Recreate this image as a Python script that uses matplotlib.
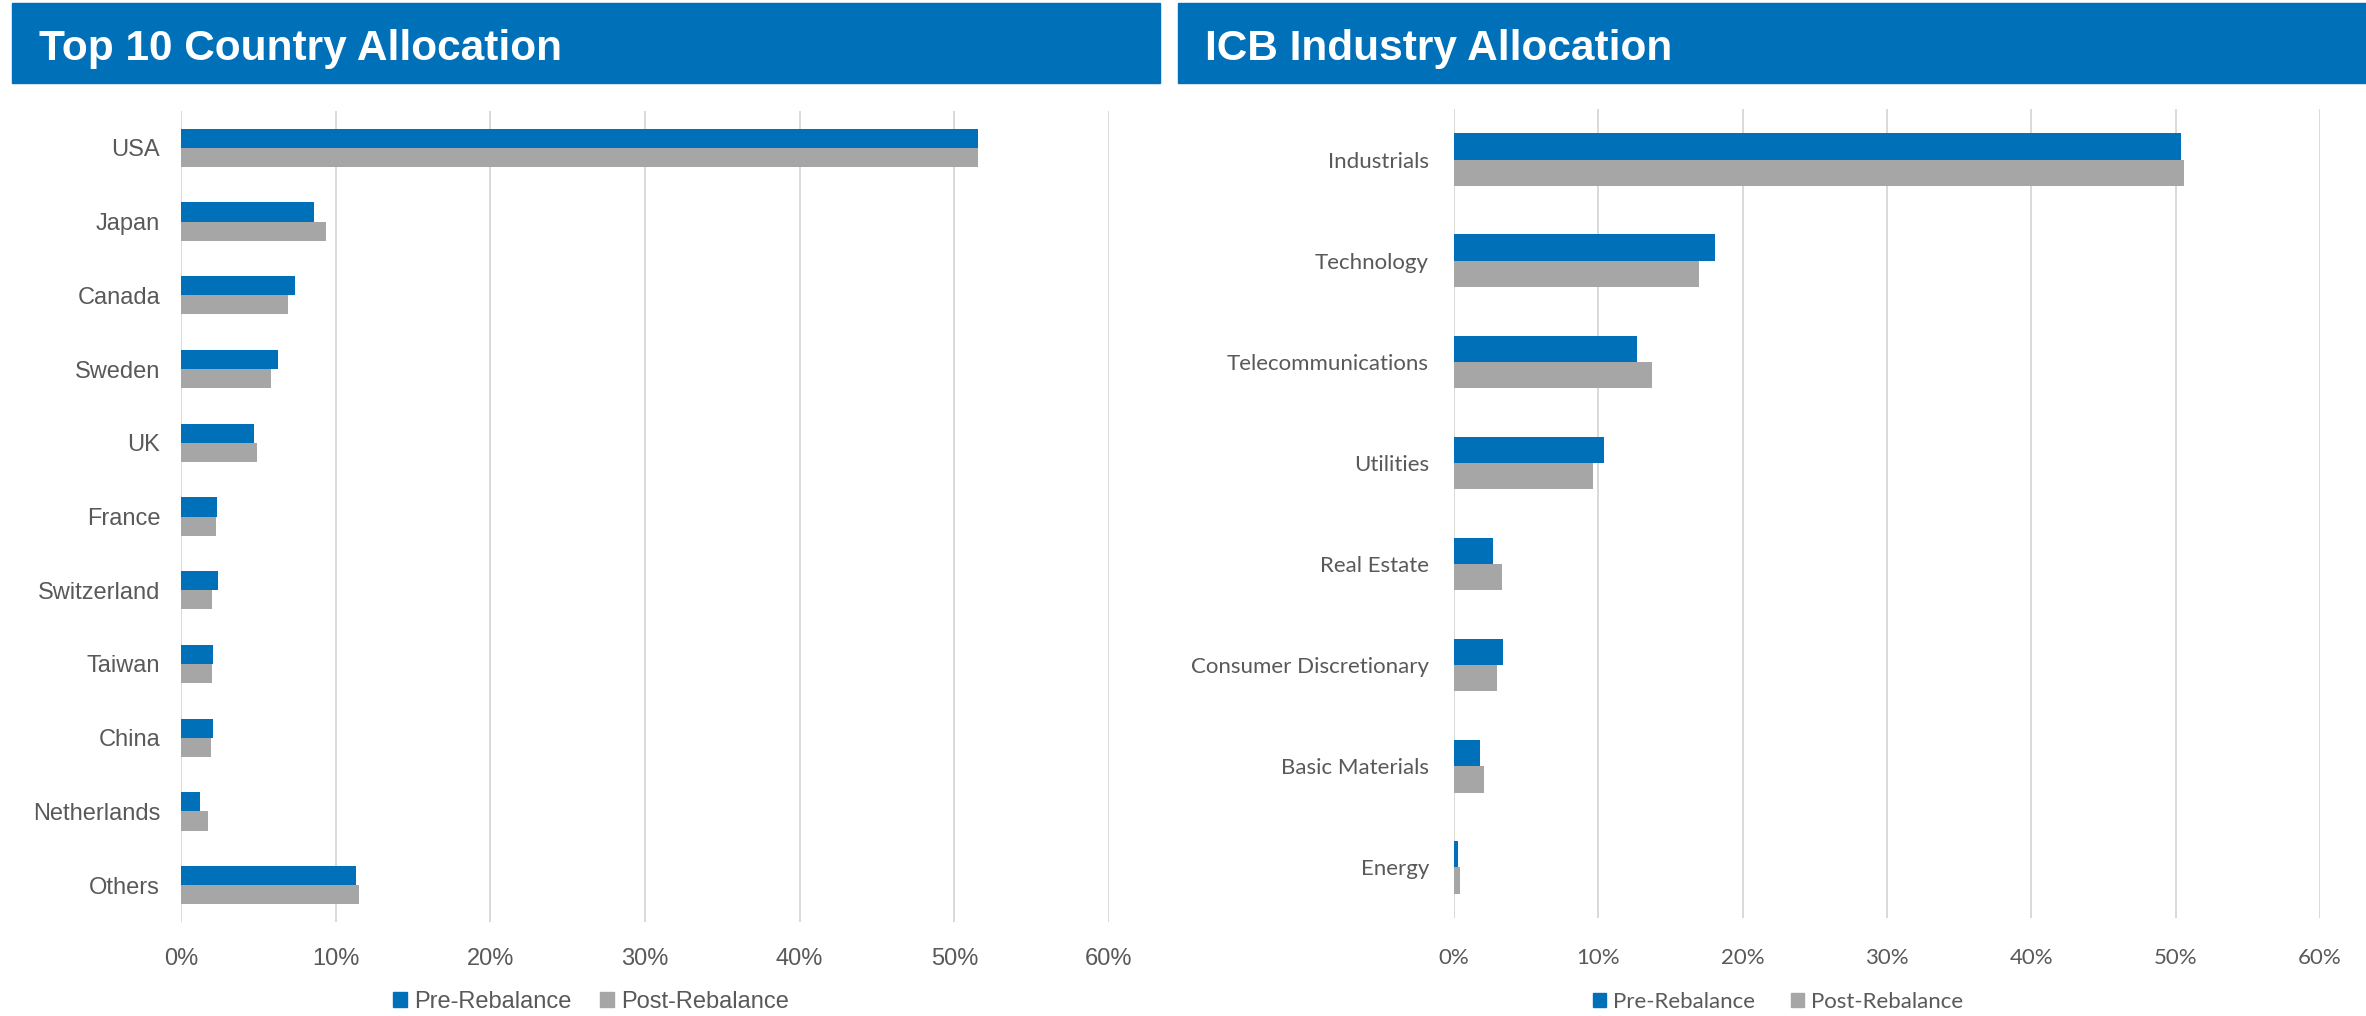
import numpy as np
import matplotlib
matplotlib.use("Agg")
import matplotlib.pyplot as plt
from matplotlib.patches import Rectangle, Patch
from matplotlib.ticker import PercentFormatter

# ---------------------- Data -------------------

countries = ["USA", "Japan", "Canada", "Sweden", "UK", "France", "Switzerland",
             "Taiwan", "China", "Netherlands", "Others"]
country_pre = [51.5, 8.6, 7.4, 6.3, 4.7, 2.3, 2.4, 2.1, 2.1, 1.25, 11.3]
country_post = [51.5, 9.4, 6.9, 5.8, 4.9, 2.25, 2.0, 2.0, 1.95, 1.75, 11.5]

industries = ["Industrials", "Technology", "Telecommunications", "Utilities",
              "Real Estate", "Consumer Discretionary", "Basic Materials", "Energy"]
industry_pre = [50.4, 18.1, 12.7, 10.4, 2.7, 3.4, 1.8, 0.3]
industry_post = [50.6, 17.0, 13.7, 9.6, 3.3, 3.0, 2.1, 0.4]

series_names = ["Pre-Rebalance", "Post-Rebalance"]
x_ticks = [0, 10, 20, 30, 40, 50, 60]

# ---------------------- Style -------------------

BLUE = "#0070B9"
GREY = "#A6A6A6"
GRID = "#D9D9D9"
TEXT = "#595959"
BAR_H = 0.26


def bar_panel(ax, labels, pre, post, font, size, ypad, xpad):
        y = np.arange(len(labels))
        ax.barh(y - BAR_H / 2, pre, height=BAR_H, color=BLUE, zorder=3)
        ax.barh(y + BAR_H / 2, post, height=BAR_H, color=GREY, zorder=3)
        ax.set_ylim(len(labels) - 0.5, -0.5)
        ax.set_xlim(0, 60)
        ax.set_yticks(y)
        ax.set_yticklabels(labels, family=font, fontsize=size, color=TEXT)
        ax.set_xticks(x_ticks)
        ax.xaxis.set_major_formatter(PercentFormatter(decimals=0))
        for lab in ax.get_xticklabels():
                lab.set_family(font)
                lab.set_fontsize(size)
                lab.set_color(TEXT)
        ax.tick_params(axis="both", length=0)
        ax.tick_params(axis="y", pad=ypad)
        ax.tick_params(axis="x", pad=xpad)
        ax.xaxis.grid(True, color=GRID, linewidth=1.4, zorder=0)
        ax.set_axisbelow(True)
        for s in ax.spines.values():
                s.set_visible(False)


def banner(fig, x0, x1, text):
        W, H = 2366, 1016
        fig.patches.append(Rectangle((x0 / W, 1 - 83 / H), (x1 - x0) / W, 80 / H,
                                     transform=fig.transFigure, color=BLUE, zorder=0))
        fig.text((x0 + 27) / W, 1 - 60 / H, text, color="white", fontsize=30.5,
                 fontweight="bold", family="Liberation Sans", va="baseline")


# ---------------------- Main -----------------------

fig = plt.figure(figsize=(23.66, 10.16), dpi=100)

banner(fig, 12, 1160, "Top 10 Country Allocation")
banner(fig, 1178, 2366, "ICB Industry Allocation")

ax1 = fig.add_axes([181 / 2366, 1 - 922 / 1016, 928 / 2366, 811 / 1016])
bar_panel(ax1, countries, country_pre, country_post, "Liberation Sans", 17, 15, 19)

ax2 = fig.add_axes([1454 / 2366, 1 - 918 / 1016, 866 / 2366, 809 / 1016])
bar_panel(ax2, industries, industry_pre, industry_post, "Lato", 16, 18, 21.5)

handles = [Patch(color=BLUE), Patch(color=GREY)]
fig.legend(handles, series_names, loc="center", bbox_to_anchor=(591 / 2366, 1 - 1002 / 1016),
           ncol=2, frameon=False, handlelength=0.6, handleheight=0.6, handletextpad=0.3,
           columnspacing=1.2, prop={"family": "Liberation Sans", "size": 17}, labelcolor=TEXT)
fig.legend(handles, series_names, loc="center", bbox_to_anchor=(1778 / 2366, 1 - 1002 / 1016),
           ncol=2, frameon=False, handlelength=0.6, handleheight=0.6, handletextpad=0.3,
           columnspacing=1.6, prop={"family": "Lato", "size": 16}, labelcolor=TEXT)

fig.savefig("out.png", dpi=100)
